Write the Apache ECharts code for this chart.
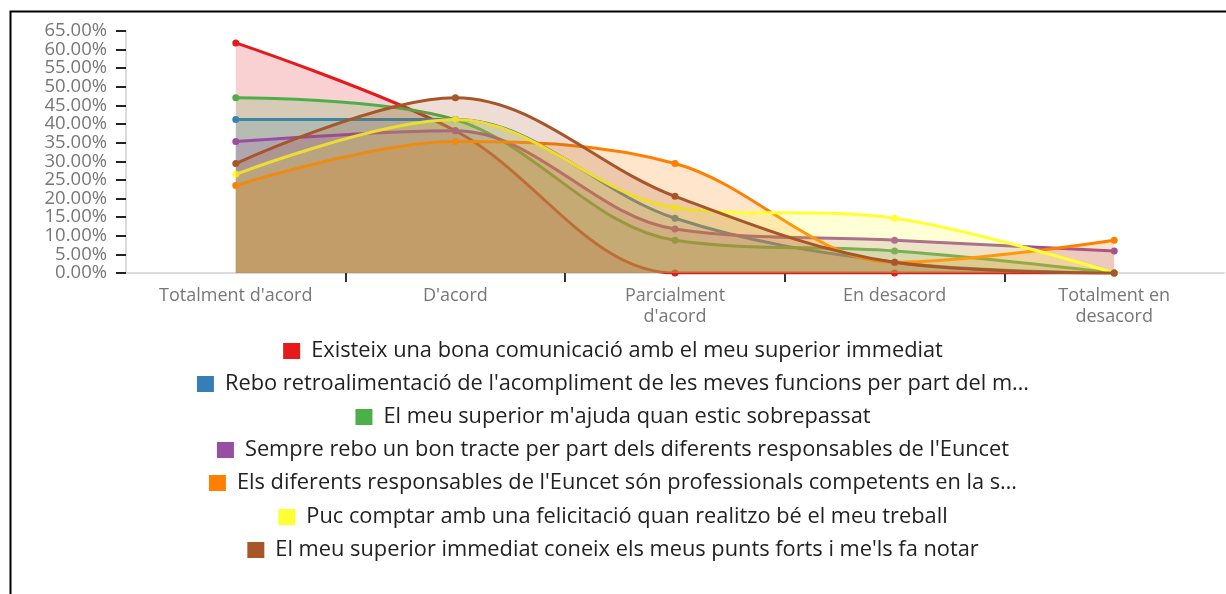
<!DOCTYPE html>
<html>
<head>
<meta charset="utf-8">
<script src="https://cdn.jsdelivr.net/npm/echarts@6/dist/echarts.min.js"></script>
<style>
  html, body { margin: 0; padding: 0; background: #fff; }
  #chart { width: 1226px; height: 594px; }
</style>
</head>
<body>
<div id="chart"></div>
<script>
// categories (x axis)
const categories = ["Totalment d'acord", "D'acord", "Parcialment\nd'acord", "En desacord", "Totalment en\ndesacord"];

// series names (as shown in the legend)
const seriesNames = [
    "Existeix una bona comunicació amb el meu superior immediat",
    "Rebo retroalimentació de l'acompliment de les meves funcions per part del m…",
    "El meu superior m'ajuda quan estic sobrepassat",
    "Sempre rebo un bon tracte per part dels diferents responsables de l'Euncet",
    "Els diferents responsables de l'Euncet són professionals competents en la s…",
    "Puc comptar amb una felicitació quan realitzo bé el meu treball",
    "El meu superior immediat coneix els meus punts forts i me'ls fa notar"
];

// values in %
const comunicacio = [61.8, 38.2, 0, 0, 0];
const retroalimentacio = [41.2, 41.2, 14.7, 2.9, 0];
const ajuda = [47.1, 41.2, 8.8, 5.9, 0];
const tracte = [35.3, 38.2, 11.8, 8.8, 5.9];
const competents = [23.5, 35.3, 29.4, 2.9, 8.8];
const felicitacio = [26.5, 41.2, 17.6, 14.7, 0];
const puntsForts = [29.4, 47.1, 20.6, 2.9, 0];

// y tick labels, split in two sets so they are not dropped as overlapping
const yLabelsEven = [0, 10, 20, 30, 40, 50, 60];
const yLabelsOdd = [5, 15, 25, 35, 45, 55, 65];

// tick positions between the categories
const tickBounds = [1, 2, 3, 4];

const seriesValues = [comunicacio, retroalimentacio, ajuda, tracte, competents, felicitacio, puntsForts];
const colors = ['#e41a1c', '#377eb8', '#4daf4a', '#984ea3', '#ff7f00', '#ffff33', '#a65628'];

const chart = echarts.init(document.getElementById('chart'));

const series = seriesValues.map((vals, i) => ({
    name: seriesNames[i],
    type: 'line',
    data: vals,
    smooth: 0.35,
    symbol: 'circle',
    symbolSize: 7,
    showSymbol: true,
    lineStyle: { color: colors[i], width: 3 },
    itemStyle: { color: colors[i] },
    areaStyle: { color: colors[i], opacity: 0.2 },
    emphasis: { disabled: true },
    z: 2 + i,
}));

// one legend block per item so each line is centred on its own
const legendTops = [335, 368, 401, 434, 467, 501, 534];
const legends = seriesNames.map((name, i) => ({
    data: [name],
    left: 'center',
    top: legendTops[i],
    itemWidth: 17,
    itemHeight: 16,
    icon: 'rect',
    selectedMode: false,
    textStyle: {
        color: '#222',
        fontSize: 21.8,
        lineHeight: 22,
        fontFamily: 'Open Sans',
        padding: [0, 0, 0, 6],
    },
}));

const yLabelStyle = {
    color: '#777',
    fontSize: 18.5,
    fontFamily: 'Open Sans',
    margin: 19,
    formatter: v => v.toFixed(2) + '%',
};

chart.setOption({
    backgroundColor: '#fff',
    animation: false,
    color: colors,
    legend: legends,
    grid: {
        left: 126,
        right: 2,
        top: 31,
        bottom: 321,
    },
    xAxis: [{
        type: 'category',
        data: categories,
        boundaryGap: true,
        axisLine: { lineStyle: { color: '#dcdcdc', width: 2 } },
        axisTick: { show: false },
        axisLabel: {
            color: '#777',
            fontSize: 18,
            fontFamily: 'Open Sans',
            lineHeight: 21,
            margin: 12,
            interval: 0,
        },
    }, {
        // helper axis: only the ticks between categories
        type: 'value',
        position: 'bottom',
        min: 0,
        max: 5,
        axisLine: { show: false },
        axisLabel: { show: false },
        splitLine: { show: false },
        axisTick: {
            show: true,
            length: 9,
            customValues: tickBounds,
            lineStyle: { color: '#333', width: 2 },
        },
    }],
    yAxis: [{
        type: 'value',
        min: 0,
        max: 65,
        interval: 5,
        axisLine: { show: true, lineStyle: { color: '#dcdcdc', width: 2 } },
        axisTick: { show: true, length: 10, lineStyle: { color: '#222', width: 2 } },
        splitLine: { show: false },
        axisLabel: { ...yLabelStyle, customValues: yLabelsEven },
    }, {
        type: 'value',
        position: 'left',
        min: 0,
        max: 65,
        interval: 5,
        axisLine: { show: false },
        axisTick: { show: false },
        splitLine: { show: false },
        axisLabel: { ...yLabelStyle, customValues: yLabelsOdd },
    }],
    graphic: [{
        type: 'rect',
        left: 8,
        top: 9,
        shape: { width: 1240, height: 620 },
        style: { fill: 'none', stroke: '#000', lineWidth: 2 },
        silent: true,
    }],
    series,
});
</script>
</body>
</html>
